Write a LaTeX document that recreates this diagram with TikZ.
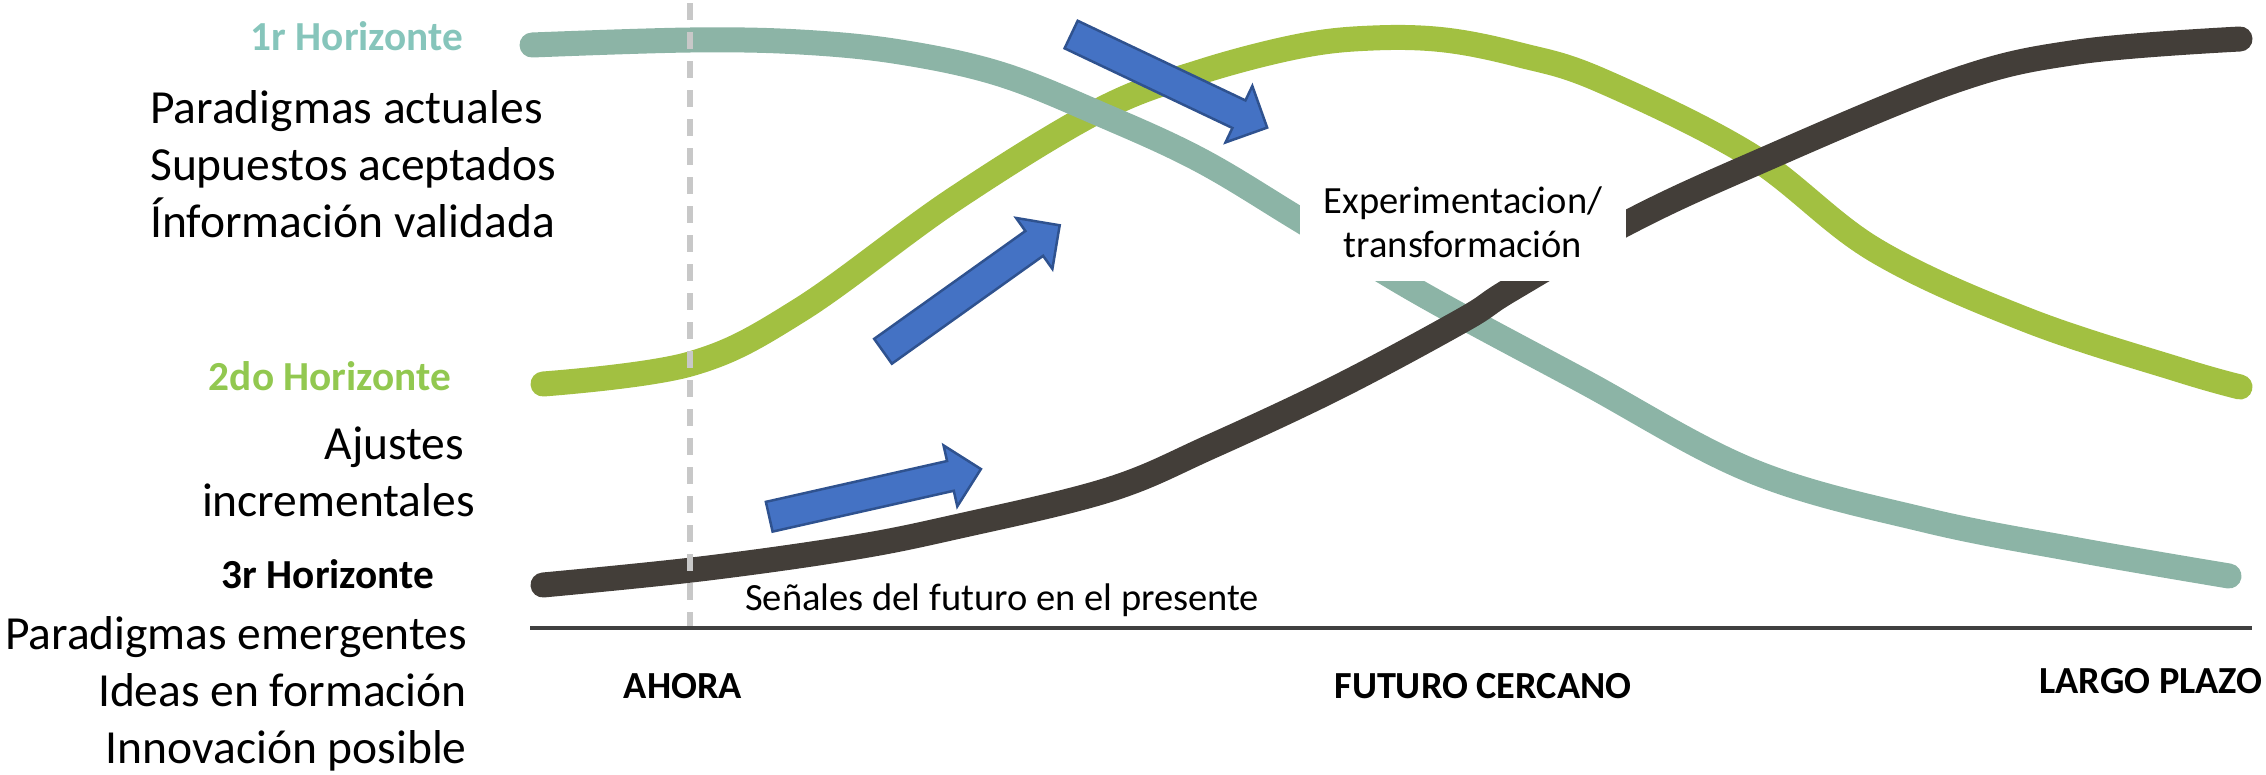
\documentclass[tikz,border=0pt]{standalone}
\usepackage{fontspec}
\setmainfont{Carlito}
\usepackage{tikz}
\usetikzlibrary{shapes.arrows}

\definecolor{horUno}{RGB}{140,180,166}
\definecolor{horUnoTxt}{RGB}{134,197,187}
\definecolor{horDos}{RGB}{162,192,65}
\definecolor{horDosTxt}{RGB}{146,200,80}
\definecolor{horTres}{RGB}{67,62,57}
\definecolor{flecha}{RGB}{68,114,196}
\definecolor{flechaBorde}{RGB}{47,82,143}
\definecolor{guia}{RGB}{200,200,200}
\definecolor{ejeCol}{RGB}{64,64,64}

\begin{document}
\begin{tikzpicture}[x=1pt, y=-1pt,
  curva/.style={line width=25pt, line cap=round},
  cuerpo/.style={inner sep=0pt, font=\fontsize{47.5}{57}\selectfont},
  titulo/.style={inner sep=0pt, font=\fontsize{41.3}{50}\selectfont\bfseries},
  eje/.style={inner sep=0pt, font=\fontsize{38.3}{46}\selectfont\bfseries},
  nota/.style={inner sep=0pt, font=\fontsize{38.5}{44}\selectfont},
  flechita/.style={single arrow, draw=flechaBorde, fill=flecha, line width=2.5pt,
    minimum height=217pt, minimum width=60pt, single arrow head extend=16pt,
    inner xsep=0pt, inner ysep=14pt, anchor=tail}
]
\useasboundingbox (0,0) rectangle (2266,774);

% horizontes
\draw[curva, horDos] plot[smooth, tension=0.6] coordinates {(543,384) (690,364) (800,310) (953,200) (1100,110) (1200,72) (1300,46) (1373,38) (1445,40) (1520,55) (1600,80) (1750,155) (1875,250) (2027,320) (2180,370) (2240,387)};
\draw[curva, horUno] plot[smooth, tension=0.6] coordinates {(532,45) (690,40) (800,42) (900,52) (1000,74) (1100,114) (1200,160) (1300,220) (1420,293) (1581,380) (1752,471) (1925,520) (2078,550) (2229,576)};
\draw[curva, horTres] plot[smooth, tension=0.6] coordinates {(543,585) (700,569) (850,548) (955,527) (1108,490) (1210,447) (1338,387) (1463,320) (1510,290) (1627,223) (1747,167) (1951,82) (2078,52) (2240,39)};

% tiempo
\coordinate (ahoraTop) at (690,3);
\coordinate (ahoraBot) at (690,628);
\coordinate (ejeIni) at (530,628);
\coordinate (ejeFin) at (2252,628);
\draw[guia, line width=6pt, dash pattern=on 17pt off 12pt] (ahoraTop) -- (ahoraBot);
\draw[ejeCol, line width=4pt] (ejeIni) -- (ejeFin);

% flechas
\node[flechita, rotate=-25.4] (fl1) at (1070,34) {};
\node[flechita, rotate=35.5] (fl2) at (882,352) {};
\node[flechita, rotate=12.7] (fl3) at (768,517) {};

\node[nota, fill=white, minimum width=326pt, minimum height=117pt, align=center] (exp) at (1463,222) {Experimentacion/\\transformación};

% textos
\node[titulo, text=horUnoTxt, anchor=base] (h1) at (357,50) {1r Horizonte};
\node[cuerpo, anchor=base west, align=left] (h1txt) at (150,237) {Paradigmas actuales\\Supuestos aceptados\\Ínformación validada};
\node[titulo, text=horDosTxt, anchor=base] (h2) at (330,390) {2do Horizonte};
\node[cuerpo, anchor=base east, align=right] (h2txt) at (475,516) {Ajustes\hspace*{10.7pt}\\incrementales};
\node[titulo, anchor=base] (h3) at (328,588) {3r Horizonte};
\node[cuerpo, anchor=base east, align=right] (h3txt) at (467,763) {Paradigmas emergentes\\Ideas en formación\\Innovación posible};
\node[nota, anchor=base west] (senal) at (745,610) {Señales del futuro en el presente};

\node[eje, anchor=base] (ahora) at (683,698) {AHORA};
\node[eje, anchor=base] (cerca) at (1483,698) {FUTURO CERCANO};
\node[eje, anchor=base] (largo) at (2151,693) {LARGO PLAZO};
\end{tikzpicture}
\end{document}
